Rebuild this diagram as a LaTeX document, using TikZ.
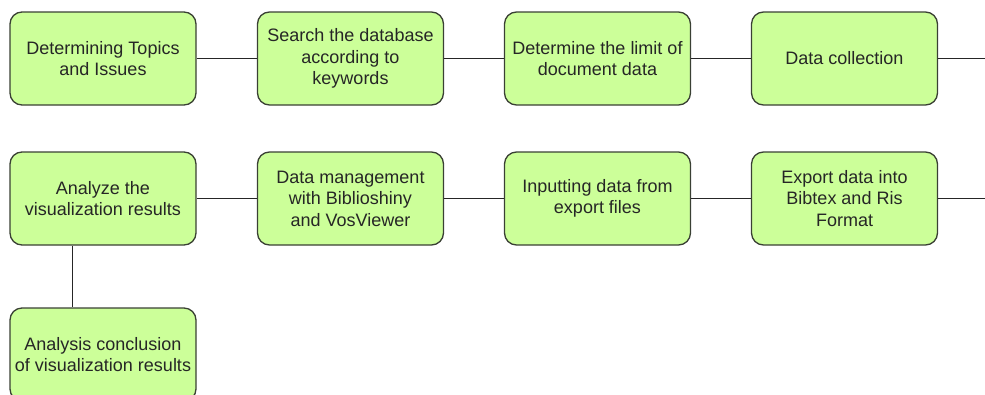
\documentclass[tikz,border=0pt]{standalone}
\usepackage{fontspec}
\setmainfont{Liberation Sans}
\definecolor{boxfill}{HTML}{CCFF99}
\definecolor{boxdraw}{HTML}{3A4034}
\definecolor{txt}{HTML}{262626}
\begin{document}
\begin{tikzpicture}[x=1pt,y=-1pt,
  box/.style={draw=boxdraw, fill=boxfill, line width=1.3pt, rounded corners=12pt,
    minimum width=186pt, minimum height=93pt, align=center, inner sep=0pt,
    font=\fontsize{18}{21.5}\selectfont, text=txt},
  conn/.style={draw=black!85, line width=1pt}]
\useasboundingbox (0,0) rectangle (985,394);
\node[box] (b1) at (103,58.5) {Determining Topics\\and Issues};
\node[box] (b2) at (350.5,58.5) {Search the database\\according to\\keywords};
\node[box] (b3) at (597.5,58.5) {Determine the limit of\\document data};
\node[box] (b4) at (844.5,58.5) {Data collection};
\node[box] (b5) at (103,198.5) {Analyze the\\visualization results};
\node[box] (b6) at (350.5,198.5) {Data management\\with Biblioshiny\\and VosViewer};
\node[box] (b7) at (597.5,198.5) {Inputting data from\\export files};
\node[box] (b8) at (844.5,198.5) {Export data into\\Bibtex and Ris\\Format};
\node[box] (b9) at (103,354.5) {Analysis conclusion\\of visualization results};
\coordinate (e1) at (985,58.5);
\coordinate (e2) at (985,198.5);
\draw[conn] (b1) -- (b2);
\draw[conn] (b2) -- (b3);
\draw[conn] (b3) -- (b4);
\draw[conn] (b4) -- (e1);
\draw[conn] (b5) -- (b6);
\draw[conn] (b6) -- (b7);
\draw[conn] (b7) -- (b8);
\draw[conn] (b8) -- (e2);
\draw[conn] ([xshift=-31pt]b5.south) -- ([xshift=-31pt]b9.north);
\end{tikzpicture}
\end{document}
